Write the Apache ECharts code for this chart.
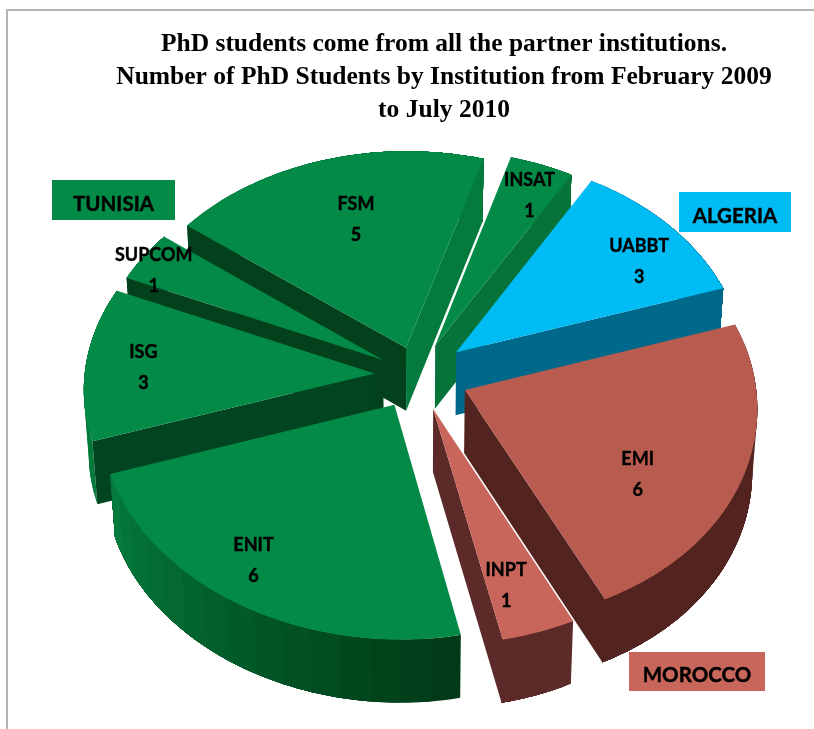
<!DOCTYPE html>
<html>
<head>
<meta charset="utf-8">
<script src="https://cdn.jsdelivr.net/npm/echarts@6/dist/echarts.min.js"></script>
<style>
html,body{margin:0;padding:0;background:#fff;}
#chart{width:814px;height:729px;}
</style>
</head>
<body>
<div id="chart"></div>
<script>
// data, clockwise from the top of UABBT
const institutions = ['UABBT','EMI','INPT','ENIT','ISG','SUPCOM','FSM','INSAT'];
const students = [3,6,1,6,3,1,5,1];
const countries = ['ALGERIA','MOROCCO','TUNISIA'];

const titleLines = [
    'PhD students come from all the partner institutions.',
    'Number of PhD Students by Institution from February 2009',
    'to July 2010'
];

// slice styling, same order as institutions
const topColors = ['#00bcf5','#b85c50','#c9665c','#038a47','#038a47','#038a47','#038a47','#038a47'];
const startWall = ['#00688a','#532320','#5c2a28','#004a20','#00451f','#03401c','#03401c','#05733a'];
const endWall = ['#00688a','#532320','#5c2a28','#004a20','#00451f','#03401c','#047a3c','#05733a'];
const rimFrom = ['#00688a','#532320','#5c2a28','#003a16','#047a3c','#047a3c','#047a3c','#05733a'];
const rimTo = ['#00688a','#532320','#5c2a28','#047a3c','#047a3c','#047a3c','#047a3c','#05733a'];
const explode = [.17,.175,.165,.16,.15,.14,.135,.15];
const labelRadius = [.794,.684,.793,.826,.8,.93,.663,.829];
const labelTurn = [-5,-10.2,-2.2,-4,.6,2.6,-2,-1.4];
const paintOrder = ['FSM','INSAT','UABBT','SUPCOM','ISG','EMI','INPT','ENIT'];
const countryColors = {ALGERIA:'#00bcf5',MOROCCO:'#c9665c',TUNISIA:'#038a47'};

// pie geometry: a disc seen in perspective
const cx = 418, cy = 375, rx = 290, ry = 214, persp = .07, lean = 6, depth = 63, bottomScale = .985, firstAngle = 59.6;
const rimSamples = 60, rimFacets = 15;

const total = students.reduce(function(a,b){return a+b;},0);

function project(u,v){
    const w = 1-persp*v;
    return [cx+rx*u/w+(v>0?lean*v*v:0), cy+ry*v/w];
}
function drop(p){
    return [cx+(p[0]-cx)*bottomScale, p[1]+depth];
}
function mixColor(a,b,t){
    const pa = parseInt(a.slice(1),16), pb = parseInt(b.slice(1),16);
    let out = '#';
    [16,8,0].forEach(function(s){
        const c = Math.round(((pa>>s)&255)*(1-t)+((pb>>s)&255)*t);
        out += (c<16?'0':'')+c.toString(16);
    });
    return out;
}
// wall under an edge only shows if it falls outside the top face
function wallShows(apex,corner,other){
    const ex = corner[0]-apex[0], ey = corner[1]-apex[1];
    const side = ex*(other[1]-apex[1])-ey*(other[0]-apex[0]);
    const down = ex*depth;
    return side*down<0;
}

function renderSlice(params,api){
    const i = params.dataIndex;
    const value = api.value(1);
    let before = 0;
    for(let k=0;k<i;k++){before += students[k];}
    const a1 = firstAngle-before/total*360;
    const a2 = a1-value/total*360;
    const mid = (a1+a2)/2*Math.PI/180;
    const ou = explode[i]*Math.cos(mid), ov = -explode[i]*Math.sin(mid);
    const at = function(r,deg){
        const t = deg*Math.PI/180;
        return project(ou+r*Math.cos(t),ov-r*Math.sin(t));
    };
    const z = paintOrder.indexOf(institutions[i])*10;
    const apex = project(ou,ov);
    const rim = [];
    for(let s=0;s<=rimSamples;s++){rim.push(at(1,a1+(a2-a1)*s/rimSamples));}
    const children = [];
    // outer wall, flat facets like the original; each facet runs to the end of
    // the rim so the next one paints over it and no seam shows
    const perFacet = rimSamples/rimFacets;
    for(let f=0;f<rimFacets;f++){
        const upper = rim.slice(f*perFacet);
        const lower = upper.map(drop).reverse();
        const col = mixColor(rimFrom[i],rimTo[i],f/(rimFacets-1));
        children.push({type:'polygon',z2:z,shape:{points:upper.concat(lower)},style:{fill:col}});
    }
    // radial walls
    const last = rim[rimSamples], first = rim[0];
    if(wallShows(apex,first,last)){
        children.push({type:'polygon',z2:z+1,shape:{points:[apex,first,drop(first),drop(apex)]},style:{fill:startWall[i]}});
    }
    if(wallShows(apex,last,first)){
        children.push({type:'polygon',z2:z+1,shape:{points:[apex,last,drop(last),drop(apex)]},style:{fill:endWall[i]}});
    }
    // top face
    children.push({type:'polygon',z2:z+2,shape:{points:[apex].concat(rim)},style:{fill:topColors[i]}});
    // label
    const lp = at(labelRadius[i],(a1+a2)/2+labelTurn[i]);
    children.push({
        type:'text',z2:200,x:lp[0],y:lp[1],
        style:{
            text:institutions[i]+'\n'+value,
            font:'bold 18px Lato',
            fill:'#000',
            stroke:'#000',
            lineWidth:.4,
            textAlign:'center',
            textVerticalAlign:'middle',
            lineHeight:31
        }
    });
    return {type:'group',children:children};
}

function countryBox(name,x,y,w,h){
    return {
        type:'group',z:10,
        children:[{
            type:'rect',shape:{x:x,y:y,width:w,height:h},style:{fill:countryColors[name]}
        },{
            type:'text',x:x+w/2,y:y+h/2+4,
            style:{text:name,font:'bold 20.5px Lato',fill:'#000',stroke:'#000',lineWidth:.4,textAlign:'center',textVerticalAlign:'middle'}
        }]
    };
}

const chart = echarts.init(document.getElementById('chart'),null,{renderer:'canvas'});
chart.setOption({
    animation:false,
    backgroundColor:'#fff',
    title:{
        text:titleLines.join('\n'),
        left:439,
        top:23,
        textAlign:'center',
        textStyle:{
            fontFamily:'Liberation Serif',
            fontWeight:'bold',
            fontSize:25.5,
            lineHeight:33,
            color:'#000'
        }
    },
    graphic:[
        {type:'polyline',z:1,shape:{points:[[7,729],[7,10],[814,10]]},style:{stroke:'#b4b4b4',lineWidth:2,fill:null}},
        countryBox(countries[2],52,180,123,40),
        countryBox(countries[0],679,192,112,40),
        countryBox(countries[1],629,652,136,39)
    ],
    series:[{
        type:'custom',
        coordinateSystem:'none',
        renderItem:renderSlice,
        data:institutions.map(function(name,i){return {name:name,value:[i,students[i]]};})
    }]
});
</script>
</body>
</html>
